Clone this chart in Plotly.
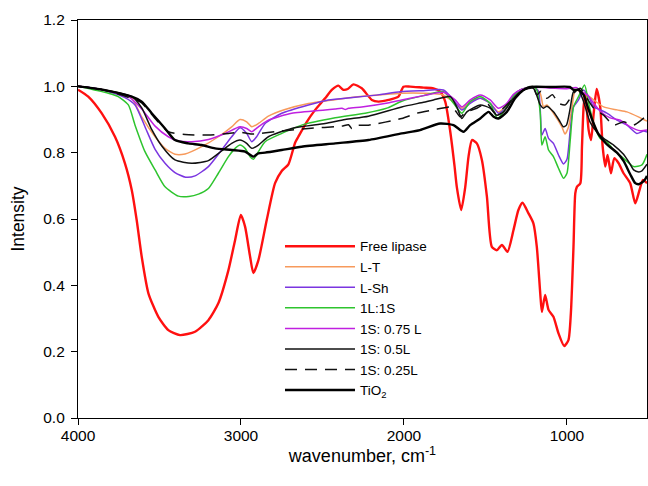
import plotly.graph_objects as go

# ---------------- data ----------------
names = ["Free lipase", "L-T", "L-Sh", "1L:1S", "1S: 0.75 L", "1S: 0.5L", "1S: 0.25L", "TiO<sub>2</sub>"]

free_wn = [4000, 3937, 3855, 3773, 3712, 3670, 3640, 3609, 3568, 3507, 3446, 3374, 3282, 3200, 3139, 3077, 3036, 3001, 2975, 2944, 2924, 2893, 2842, 2791, 2750, 2709, 2668, 2648, 2600, 2545, 2484, 2443, 2402, 2375, 2345, 2310, 2259, 2197, 2157, 2095, 2034, 2003, 1962, 1880, 1819, 1778, 1747, 1716, 1690, 1676, 1649, 1624, 1604, 1583, 1553, 1522, 1491, 1461, 1430, 1399, 1365, 1328, 1298, 1273, 1236, 1206, 1185, 1164, 1154, 1134, 1113, 1083, 1052, 1017, 991, 976, 960, 949, 939, 918, 908, 898, 888, 867, 852, 836, 818, 796, 781, 765, 751, 730, 710, 683, 653, 612, 581, 555, 534, 509]
free_i = [0.99, 0.969, 0.919, 0.848, 0.768, 0.687, 0.597, 0.486, 0.376, 0.305, 0.265, 0.25, 0.26, 0.295, 0.346, 0.446, 0.537, 0.612, 0.577, 0.486, 0.437, 0.476, 0.597, 0.708, 0.745, 0.765, 0.83, 0.848, 0.89, 0.929, 0.964, 0.989, 1.002, 0.99, 0.992, 1.006, 0.994, 0.959, 0.954, 0.959, 0.969, 0.999, 0.999, 0.996, 0.994, 0.984, 0.954, 0.863, 0.76, 0.697, 0.627, 0.697, 0.788, 0.838, 0.828, 0.778, 0.667, 0.516, 0.506, 0.522, 0.501, 0.567, 0.627, 0.649, 0.617, 0.587, 0.516, 0.376, 0.32, 0.371, 0.326, 0.305, 0.255, 0.217, 0.235, 0.316, 0.516, 0.677, 0.697, 0.708, 0.818, 0.938, 0.979, 0.868, 0.838, 0.919, 0.992, 0.938, 0.818, 0.758, 0.793, 0.738, 0.783, 0.768, 0.738, 0.708, 0.647, 0.687, 0.718, 0.708]

lt_wn = [4000, 3850, 3740, 3670, 3609, 3527, 3466, 3405, 3343, 3241, 3139, 3057, 3006, 2965, 2934, 2893, 2832, 2730, 2586, 2464, 2300, 2150, 2014, 1880, 1760, 1686, 1645, 1594, 1532, 1471, 1420, 1369, 1330, 1287, 1206, 1164, 1144, 1123, 1083, 1031, 1012, 990, 969, 949, 918, 888, 836, 775, 693, 632, 550, 509]
lt_i = [1.0, 0.99, 0.978, 0.964, 0.908, 0.848, 0.813, 0.795, 0.796, 0.818, 0.848, 0.878, 0.9, 0.893, 0.878, 0.888, 0.91, 0.93, 0.948, 0.957, 0.968, 0.974, 0.979, 0.979, 0.974, 0.949, 0.934, 0.954, 0.964, 0.949, 0.923, 0.944, 0.97, 0.989, 0.999, 0.979, 0.938, 0.944, 0.919, 0.878, 0.856, 0.878, 0.938, 0.989, 0.984, 0.979, 0.959, 0.938, 0.929, 0.923, 0.905, 0.895]

lsh_wn = [4000, 3850, 3712, 3650, 3589, 3527, 3466, 3405, 3340, 3282, 3200, 3119, 3057, 3006, 2965, 2934, 2904, 2852, 2750, 2586, 2464, 2300, 2150, 2023, 1880, 1758, 1696, 1645, 1594, 1532, 1471, 1420, 1369, 1330, 1287, 1206, 1175, 1164, 1154, 1134, 1113, 1083, 1052, 1021, 1000, 980, 960, 929, 898, 867, 836, 796, 755, 693, 632, 571, 530, 509]
lsh_i = [1.0, 0.99, 0.966, 0.944, 0.878, 0.81, 0.768, 0.74, 0.726, 0.73, 0.758, 0.808, 0.848, 0.875, 0.858, 0.833, 0.848, 0.888, 0.919, 0.944, 0.959, 0.967, 0.975, 0.984, 0.987, 0.989, 0.959, 0.929, 0.949, 0.964, 0.949, 0.919, 0.938, 0.97, 0.989, 0.999, 0.985, 0.93, 0.853, 0.873, 0.843, 0.828, 0.793, 0.766, 0.78, 0.868, 0.938, 0.959, 0.989, 0.969, 0.938, 0.929, 0.919, 0.898, 0.883, 0.858, 0.865, 0.862]

g_wn = [4000, 3814, 3753, 3691, 3650, 3589, 3527, 3466, 3384, 3320, 3261, 3200, 3139, 3077, 3036, 3006, 2975, 2944, 2924, 2893, 2852, 2750, 2628, 2422, 2238, 2100, 2014, 1880, 1758, 1696, 1645, 1594, 1532, 1471, 1426, 1369, 1330, 1287, 1206, 1185, 1164, 1154, 1134, 1113, 1083, 1052, 1021, 1000, 980, 960, 929, 892, 867, 836, 796, 755, 714, 653, 591, 540, 509]
g_i = [1.0, 0.979, 0.969, 0.944, 0.883, 0.803, 0.748, 0.697, 0.669, 0.668, 0.675, 0.692, 0.738, 0.788, 0.813, 0.823, 0.813, 0.788, 0.78, 0.803, 0.833, 0.858, 0.883, 0.905, 0.919, 0.935, 0.955, 0.972, 0.984, 0.949, 0.919, 0.954, 0.969, 0.949, 0.903, 0.938, 0.97, 0.989, 0.999, 0.989, 0.919, 0.823, 0.848, 0.808, 0.788, 0.753, 0.723, 0.738, 0.838, 0.938, 0.969, 1.004, 0.949, 0.888, 0.843, 0.833, 0.808, 0.783, 0.758, 0.763, 0.795]

m_wn = [4000, 3850, 3691, 3609, 3527, 3446, 3384, 3302, 3200, 3098, 3006, 2965, 2934, 2893, 2832, 2689, 2484, 2422, 2380, 2360, 2340, 2259, 2100, 2014, 1880, 1758, 1686, 1645, 1594, 1532, 1471, 1420, 1369, 1330, 1287, 1206, 1100, 1000, 940, 918, 877, 836, 796, 735, 673, 612, 550, 509]
m_i = [1.0, 0.99, 0.969, 0.932, 0.88, 0.848, 0.835, 0.833, 0.84, 0.858, 0.878, 0.873, 0.863, 0.878, 0.898, 0.919, 0.929, 0.932, 0.934, 0.93, 0.934, 0.938, 0.95, 0.959, 0.972, 0.982, 0.959, 0.938, 0.959, 0.974, 0.959, 0.934, 0.949, 0.975, 0.989, 0.997, 0.995, 0.993, 0.996, 0.985, 0.975, 0.949, 0.925, 0.905, 0.898, 0.878, 0.866, 0.868]

s05_wn = [4000, 3850, 3670, 3609, 3548, 3486, 3405, 3302, 3200, 3119, 3057, 3006, 2965, 2934, 2893, 2832, 2689, 2484, 2361, 2218, 2014, 1880, 1819, 1716, 1676, 1645, 1614, 1532, 1471, 1430, 1389, 1328, 1267, 1206, 1164, 1144, 1123, 1083, 1042, 1023, 1003, 980, 960, 929, 898, 859, 818, 775, 714, 653, 612, 591, 560, 540, 509]
s05_i = [1.0, 0.99, 0.969, 0.935, 0.87, 0.82, 0.778, 0.768, 0.776, 0.805, 0.828, 0.838, 0.828, 0.813, 0.823, 0.848, 0.873, 0.888, 0.9, 0.91, 0.938, 0.952, 0.959, 0.969, 0.938, 0.903, 0.923, 0.944, 0.934, 0.913, 0.923, 0.964, 0.989, 0.994, 0.944, 0.934, 0.94, 0.923, 0.893, 0.878, 0.883, 0.934, 0.984, 0.989, 0.954, 0.893, 0.863, 0.843, 0.823, 0.795, 0.765, 0.748, 0.742, 0.745, 0.765]

s025_wn = [4000, 3850, 3650, 3609, 3527, 3446, 3343, 3200, 3077, 3006, 2934, 2791, 2586, 2382, 2340, 2320, 2300, 2218, 2014, 1921, 1819, 1716, 1690, 1655, 1620, 1553, 1491, 1440, 1400, 1328, 1267, 1206, 1185, 1160, 1123, 1090, 1052, 1010, 980, 949, 918, 877, 836, 775, 714, 653, 591, 519, 509]
s025_i = [1.0, 0.99, 0.96, 0.95, 0.903, 0.863, 0.855, 0.853, 0.858, 0.862, 0.856, 0.863, 0.873, 0.88, 0.884, 0.873, 0.882, 0.883, 0.903, 0.919, 0.929, 0.938, 0.93, 0.908, 0.922, 0.934, 0.949, 0.919, 0.93, 0.964, 0.989, 0.995, 0.974, 0.985, 0.964, 0.975, 0.949, 0.944, 0.964, 0.984, 0.994, 0.964, 0.934, 0.913, 0.883, 0.893, 0.883, 0.908, 0.91]

ti_wn = [4000, 3850, 3670, 3609, 3548, 3466, 3405, 3323, 3241, 3159, 3057, 2975, 2924, 2893, 2852, 2750, 2628, 2422, 2218, 2014, 1902, 1778, 1696, 1635, 1594, 1532, 1481, 1450, 1420, 1369, 1318, 1267, 1226, 1100, 982, 960, 930, 898, 877, 846, 806, 755, 693, 653, 612, 581, 560, 540, 520, 509]
ti_i = [1.0, 0.99, 0.969, 0.954, 0.919, 0.873, 0.838, 0.828, 0.823, 0.813, 0.808, 0.803, 0.788, 0.798, 0.8, 0.808, 0.818, 0.828, 0.838, 0.858, 0.868, 0.888, 0.883, 0.863, 0.883, 0.903, 0.923, 0.908, 0.903, 0.923, 0.964, 0.989, 0.998, 0.998, 0.998, 0.989, 0.99, 0.974, 0.944, 0.9, 0.855, 0.825, 0.8, 0.775, 0.735, 0.708, 0.705, 0.71, 0.72, 0.73]

series_x = [free_wn, lt_wn, lsh_wn, g_wn, m_wn, s05_wn, s025_wn, ti_wn]
series_y = [free_i, lt_i, lsh_i, g_i, m_i, s05_i, s025_i, ti_i]

colors = ["#ff1010", "#f79a5c", "#7a35e0", "#2ec42e", "#c020e0", "#111111", "#111111", "#000000"]
widths = [2.4, 1.5, 1.5, 1.5, 1.5, 1.5, 1.5, 2.4]
dashes = ["solid", "solid", "solid", "solid", "solid", "solid", "12px,8px", "solid"]

x_ticks = [4000, 3000, 2000, 1000]
y_ticks = [0.0, 0.2, 0.4, 0.6, 0.8, 1.0, 1.2]

FONT = "Arial, Liberation Sans, sans-serif"

fig = go.Figure()
for n, xs, ys, c, w, d in zip(names, series_x, series_y, colors, widths, dashes):
    fig.add_trace(go.Scatter(x=xs, y=ys, mode="lines", name=n,
                             line=dict(color=c, width=w, dash=d, shape="spline", smoothing=0.6)))

fig.update_layout(
    width=648, height=486,
    margin=dict(l=78, r=1, t=20, b=68, autoexpand=False),
    paper_bgcolor="white", plot_bgcolor="white",
    font=dict(family=FONT, color="black", size=15),
    legend=dict(x=0.355, y=0.47, xanchor="left", yanchor="top",
                bgcolor="rgba(0,0,0,0)", borderwidth=0,
                font=dict(size=13.5, family=FONT), itemwidth=70,
                tracegroupgap=0),
    showlegend=True,
)
fig.update_xaxes(range=[4000, 509], tickvals=x_ticks, tickformat="d",
                 automargin=False,
                 showgrid=False, zeroline=False,
                 showline=True, linecolor="black", linewidth=1.2, mirror=True,
                 ticks="outside", ticklen=6, tickcolor="black",
                 ticklabelstandoff=-3,
                 tickfont=dict(size=15.5),
                 title=dict(text="wavenumber, cm<sup>-1</sup>", font=dict(size=18), standoff=6))
fig.update_yaxes(range=[0, 1.2], tickvals=y_ticks, tickformat=".1f",
                 automargin=False,
                 showgrid=False, zeroline=False,
                 showline=True, linecolor="black", linewidth=1.2, mirror=True,
                 ticks="outside", ticklen=6, tickcolor="black",
                 ticklabelstandoff=3,
                 tickfont=dict(size=15.5),
                 title=dict(text="Intensity", font=dict(size=17.5), standoff=14))

# remove the page's default body margin / scrollbars so the figure fills the window exactly
fig.write_html("out.html",
               config={"displayModeBar": False},
               post_script="document.body.style.margin='0';document.body.style.overflow='hidden';")
